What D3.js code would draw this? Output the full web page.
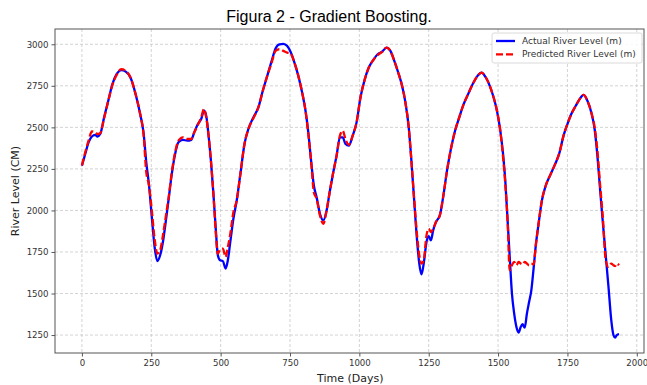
<!DOCTYPE html>
<html>
<head>
<meta charset="utf-8">
<script src="https://cdn.jsdelivr.net/npm/d3@7"></script>
<style>
  body { margin: 0; background: #fff; }
  svg { display: block; }
</style>
</head>
<body>
<div id="chart"></div>
<script>
// days sampled along the series
const days = [0, 12, 24, 36, 48, 56, 66, 80, 95, 110, 125, 142, 158, 175, 195, 210, 222, 232, 242, 252, 262, 272, 282, 292, 302, 312, 324, 336, 348, 364, 380, 394, 405, 418, 430, 440, 448, 456, 465, 474, 482, 490, 498, 508, 518, 526, 534, 546, 558, 572, 586, 600, 618, 636, 652, 668, 684, 698, 712, 726, 740, 752, 766, 780, 795, 806, 816, 826, 836, 846, 858, 870, 882, 894, 906, 918, 930, 940, 950, 962, 976, 990, 1004, 1018, 1034, 1050, 1066, 1082, 1098, 1112, 1126, 1140, 1154, 1166, 1178, 1188, 1198, 1208, 1216, 1224, 1232, 1242, 1250, 1258, 1266, 1276, 1290, 1302, 1316, 1330, 1345, 1360, 1376, 1392, 1410, 1426, 1440, 1456, 1470, 1484, 1496, 1508, 1518, 1526, 1534, 1542, 1550, 1558, 1566, 1574, 1582, 1588, 1596, 1604, 1612, 1620, 1628, 1636, 1646, 1658, 1672, 1690, 1706, 1720, 1736, 1750, 1764, 1780, 1794, 1808, 1822, 1836, 1848, 1858, 1868, 1878, 1888, 1898, 1908, 1916, 1922, 1928, 1936];

const actual = [2270, 2340, 2410, 2445, 2455, 2445, 2460, 2560, 2660, 2760, 2820, 2845, 2835, 2800, 2690, 2580, 2470, 2290, 2150, 1960, 1780, 1695, 1730, 1810, 1930, 2060, 2220, 2340, 2410, 2425, 2420, 2425, 2470, 2520, 2550, 2600, 2570, 2460, 2300, 2100, 1900, 1730, 1700, 1695, 1650, 1700, 1800, 1950, 2060, 2230, 2400, 2490, 2560, 2620, 2720, 2810, 2900, 2975, 3000, 3003, 2990, 2955, 2890, 2810, 2700, 2600, 2470, 2300, 2150, 2080, 1980, 1940, 2000, 2120, 2230, 2330, 2440, 2440, 2400, 2390, 2450, 2530, 2680, 2780, 2860, 2905, 2940, 2955, 2980, 2960, 2900, 2830, 2750, 2650, 2500, 2290, 2050, 1820, 1680, 1615, 1680, 1810, 1845, 1820, 1880, 1930, 1970, 2080, 2240, 2370, 2480, 2560, 2640, 2700, 2765, 2810, 2830, 2800, 2750, 2680, 2600, 2480, 2340, 2180, 1950, 1720, 1500, 1380, 1300, 1265, 1300, 1315, 1295, 1380, 1450, 1520, 1650, 1790, 1920, 2060, 2150, 2220, 2280, 2340, 2450, 2520, 2580, 2630, 2670, 2695, 2660, 2590, 2490, 2330, 2120, 1920, 1730, 1540, 1340, 1250, 1235, 1250, 1255];

const predicted = [2270, 2350, 2420, 2475, 2470, 2460, 2465, 2555, 2660, 2755, 2815, 2850, 2840, 2800, 2690, 2580, 2460, 2230, 2150, 2000, 1830, 1740, 1760, 1850, 1960, 2070, 2230, 2350, 2420, 2440, 2430, 2430, 2470, 2515, 2560, 2610, 2560, 2460, 2300, 2100, 1880, 1740, 1765, 1770, 1720, 1780, 1850, 1990, 2060, 2230, 2400, 2490, 2555, 2620, 2720, 2810, 2890, 2960, 2970, 2960, 2950, 2945, 2890, 2810, 2700, 2600, 2460, 2300, 2110, 2070, 1970, 1920, 2000, 2120, 2230, 2330, 2450, 2480, 2430, 2395, 2450, 2530, 2680, 2780, 2860, 2905, 2935, 2955, 2980, 2960, 2900, 2830, 2750, 2650, 2500, 2290, 2060, 1850, 1730, 1680, 1700, 1850, 1890, 1870, 1890, 1930, 1970, 2080, 2240, 2370, 2480, 2560, 2640, 2700, 2765, 2810, 2830, 2800, 2750, 2680, 2600, 2480, 2320, 2160, 1950, 1640, 1670, 1690, 1670, 1690, 1680, 1675, 1690, 1680, 1670, 1680, 1675, 1790, 1920, 2060, 2150, 2220, 2280, 2340, 2450, 2520, 2580, 2630, 2670, 2695, 2660, 2590, 2500, 2360, 2150, 1950, 1700, 1660, 1680, 1670, 1665, 1680, 1670];

const xTicks = [0, 250, 500, 750, 1000, 1250, 1500, 1750, 2000];
const yTicks = [1250, 1500, 1750, 2000, 2250, 2500, 2750, 3000];
const seriesNames = ["Actual River Level (m)", "Predicted River Level (m)"];

const width = 647, height = 385;
const margin = {top: 29, right: 3, bottom: 32, left: 55};

const svg = d3.select("#chart").append("svg")
  .attr("width", width)
  .attr("height", height);

const x = d3.scaleLinear().domain([-97, 2026]).range([margin.left, width - margin.right]);
const y = d3.scaleLinear().domain([1142, 3092]).range([height - margin.bottom, margin.top]);

// grid
svg.append("g").selectAll("line").data(xTicks).enter().append("line")
  .attr("x1", d => x(d)).attr("x2", d => x(d))
  .attr("y1", margin.top).attr("y2", height - margin.bottom)
  .attr("stroke", "#c8c8c8").attr("stroke-width", 0.8).attr("stroke-dasharray", "3,2");
svg.append("g").selectAll("line").data(yTicks).enter().append("line")
  .attr("y1", d => y(d)).attr("y2", d => y(d))
  .attr("x1", margin.left).attr("x2", width - margin.right)
  .attr("stroke", "#c8c8c8").attr("stroke-width", 0.8).attr("stroke-dasharray", "3,2");

// axes
const xAxis = svg.append("g")
  .attr("transform", "translate(0," + (height - margin.bottom) + ")")
  .call(d3.axisBottom(x).tickValues(xTicks).tickFormat(d3.format("d")).tickSizeOuter(0).tickSize(3.5).tickPadding(3));
const yAxis = svg.append("g")
  .attr("transform", "translate(" + margin.left + ",0)")
  .call(d3.axisLeft(y).tickValues(yTicks).tickFormat(d3.format("d")).tickSizeOuter(0).tickSize(3.5).tickPadding(3));
[xAxis, yAxis].forEach(a => {
  a.select(".domain").remove();
  a.selectAll("text").style("font-family", "DejaVu Sans").style("font-size", "8.6px").attr("fill", "#333");
  a.selectAll("line").attr("stroke", "#555");
});

// frame
svg.append("rect")
  .attr("x", margin.left).attr("y", margin.top)
  .attr("width", width - margin.left - margin.right)
  .attr("height", height - margin.top - margin.bottom)
  .attr("fill", "none").attr("stroke", "#555").attr("stroke-width", 1);

const line = (vals) => d3.line()
  .x((d, i) => x(days[i]))
  .y(d => y(d))
  .curve(d3.curveMonotoneX)(vals);

svg.append("path")
  .attr("d", line(actual))
  .attr("fill", "none").attr("stroke", "#0000ff").attr("stroke-width", 2.3)
  .attr("stroke-linejoin", "round");
svg.append("path")
  .attr("d", line(predicted))
  .attr("fill", "none").attr("stroke", "#ff0000").attr("stroke-width", 2.3)
  .attr("stroke-dasharray", "7,3");

// title and labels
svg.append("text")
  .attr("x", 329).attr("y", 22)
  .attr("text-anchor", "middle")
  .style("font-family", "Liberation Sans, Arial, sans-serif").style("font-size", "16px")
  .text("Figura 2 - Gradient Boosting.");
svg.append("text")
  .attr("x", x(1000) - 9).attr("y", 382)
  .attr("text-anchor", "middle")
  .style("font-family", "DejaVu Sans").style("font-size", "11px").attr("fill", "#222")
  .text("Time (Days)");
svg.append("text")
  .attr("transform", "translate(19," + ((margin.top + height - margin.bottom) / 2) + ") rotate(-90)")
  .attr("text-anchor", "middle")
  .style("font-family", "DejaVu Sans").style("font-size", "11px").attr("fill", "#222")
  .text("River Level (CM)");

// legend
const legend = svg.append("g").attr("transform", "translate(492,33)");
legend.append("rect")
  .attr("width", 150).attr("height", 30).attr("rx", 2)
  .attr("fill", "#fff").attr("fill-opacity", 0.85)
  .attr("stroke", "#d0d0d0").attr("stroke-width", 0.8);
legend.selectAll("line.key").data(seriesNames).enter().append("line")
  .attr("x1", 4).attr("x2", 23)
  .attr("y1", (d, i) => 8 + i * 13.3).attr("y2", (d, i) => 8 + i * 13.3)
  .attr("stroke", (d, i) => i ? "#ff0000" : "#0000ff")
  .attr("stroke-width", 2.3)
  .attr("stroke-dasharray", (d, i) => i ? "7,3" : null);
legend.selectAll("text").data(seriesNames).enter().append("text")
  .attr("x", 30).attr("y", (d, i) => 11 + i * 13.3)
  .style("font-family", "DejaVu Sans").style("font-size", "9px").attr("fill", "#333")
  .text(d => d);
</script>
</body>
</html>
